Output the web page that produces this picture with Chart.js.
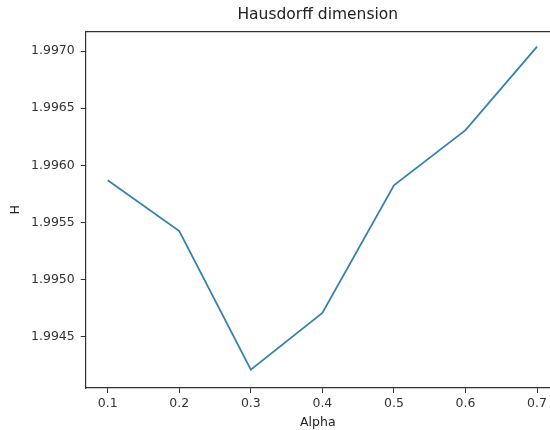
<!DOCTYPE html>
<html>
<head>
<meta charset="utf-8">
<script src="https://cdn.jsdelivr.net/npm/chart.js@4"></script>
<style>
  html, body { margin: 0; padding: 0; background: #fff; overflow: hidden; }
  #wrap { width: 550px; height: 430px; }
</style>
</head>
<body>
<div id="wrap"><canvas id="hd_chart" width="550" height="430"></canvas></div>
<script>
const alpha = [0.1, 0.2, 0.3, 0.4, 0.5, 0.6, 0.7];
const h_values = [1.995868, 1.995424, 1.994211, 1.994708, 1.995825, 1.996307, 1.997038];
const x_ticks = [0.1, 0.2, 0.3, 0.4, 0.5, 0.6, 0.7];
const y_ticks = [1.9945, 1.9950, 1.9955, 1.9960, 1.9965, 1.9970];

const font_family = "'DejaVu Sans', sans-serif";
const axis_color = '#333333';

function draw_chart(chart_id) {
    const ctx = document.getElementById(chart_id).getContext('2d');
    const points = alpha.map((a, i) => ({x: a, y: h_values[i]}));
    new Chart(ctx, {
        type: 'line',
        data: {
            datasets: [{
                label: 'H',
                data: points,
                borderColor: '#3582b0',
                borderWidth: 1.8,
                pointRadius: 0,
                tension: 0,
                fill: false
            }]
        },
        options: {
            responsive: false,
            animation: false,
            layout: {padding: {left: 4, right: 0, top: 4, bottom: 0}},
            plugins: {
                legend: {display: false},
                tooltip: {enabled: false},
                title: {
                    display: true,
                    text: 'Hausdorff dimension',
                    fullSize: false,
                    color: '#222',
                    font: {family: font_family, size: 15.5, weight: 'normal'},
                    padding: {top: 2, bottom: 7}
                }
            },
            scales: {
                x: {
                    type: 'linear',
                    min: 0.0693,
                    max: 0.7178,
                    afterBuildTicks: (axis) => { axis.ticks = x_ticks.map(v => ({value: v})); },
                    ticks: {
                        color: axis_color,
                        font: {family: font_family, size: 12.5},
                        padding: 3,
                        maxRotation: 0,
                        callback: (v) => v.toFixed(1)
                    },
                    grid: {drawOnChartArea: false, drawTicks: true, tickLength: 5, color: axis_color},
                    border: {display: true, color: axis_color, width: 1.2},
                    title: {
                        display: true,
                        text: 'Alpha',
                        color: '#222',
                        font: {family: font_family, size: 12.5},
                        padding: {top: 1, bottom: 0}
                    }
                },
                x_top: {
                    type: 'linear',
                    position: 'top',
                    min: 0.0693,
                    max: 0.7178,
                    ticks: {display: false},
                    grid: {drawOnChartArea: false, drawTicks: false},
                    border: {display: true, color: axis_color, width: 1.2}
                },
                y: {
                    min: 1.99405,
                    max: 1.99717,
                    afterBuildTicks: (axis) => { axis.ticks = y_ticks.map(v => ({value: v})); },
                    ticks: {
                        color: axis_color,
                        font: {family: font_family, size: 12.5},
                        padding: 6,
                        callback: (v) => v.toFixed(4)
                    },
                    grid: {drawOnChartArea: false, drawTicks: true, tickLength: 5, color: axis_color},
                    border: {display: true, color: axis_color, width: 1.2},
                    title: {
                        display: true,
                        text: 'H',
                        color: '#222',
                        font: {family: font_family, size: 12.5},
                        padding: {top: 4, bottom: 2}
                    }
                }
            }
        }
    });
}

draw_chart('hd_chart');
</script>
</body>
</html>
